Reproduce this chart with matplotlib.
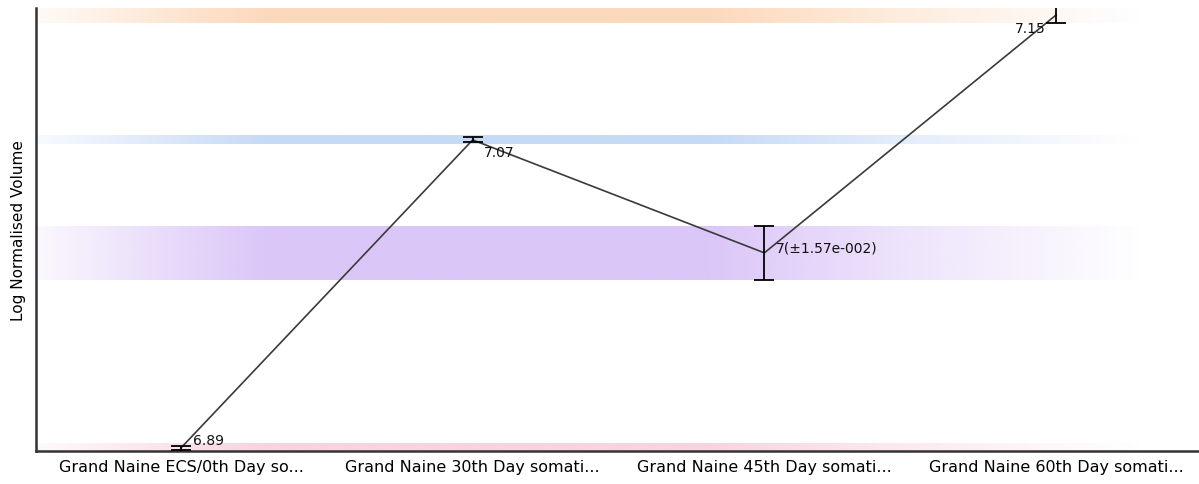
import numpy as np
import matplotlib
matplotlib.use("Agg")
import matplotlib.pyplot as plt
from matplotlib.colors import to_rgb

# ---- data ----
categories = ["Grand Naine ECS/0th Day so...", "Grand Naine 30th Day somati...",
              "Grand Naine 45th Day somati...", "Grand Naine 60th Day somati..."]
values = [6.889, 7.069, 7.003, 7.142]
errors = [0.0012, 0.0015, 0.0157, 0.0045]
point_labels = ["6.89", "7.07", "7(\u00b11.57e-002)", "7.15"]
band_colors = ["#f9d3de", "#c6daf6", "#dbc6f8", "#fdd9bb"]

plt.rcParams['font.family'] = ['DejaVu Sans']

fig = plt.figure(figsize=(11.99, 4.85), dpi=100)
ax = fig.add_axes([36/1199, 1-452/485, 1-36/1199, (452-9)/485])

x = np.arange(len(values))
ax.set_xlim(-0.497, 3.49)
ax.set_ylim(6.8872, 7.1461)

# gradient bands
xs_prof = [-0.5, -0.25, 0.1, 0.3, 1.8, 2.45, 3.3, 3.5]
al_prof = [0.12, 0.4, 0.8, 1.0, 1.0, 0.5, 0.0, 0.0]
N = 600
gx = np.linspace(-0.497, 3.49, N)
galpha = np.interp(gx, xs_prof, al_prof)
for v, e, c in zip(values, errors, band_colors):
    h = max(e, 0.0025)
    img = np.zeros((1, N, 4))
    img[0, :, :3] = to_rgb(c)
    img[0, :, 3] = galpha
    ax.imshow(img, extent=(-0.497, 3.49, v - h, v + h), aspect='auto',
              interpolation='bilinear', zorder=1)

ax.plot(x, values, color="#3a3a3a", lw=1.2, zorder=3)
ax.errorbar(x, values, yerr=errors, fmt='none', ecolor='black', elinewidth=1.3,
            capsize=7, capthick=1.3, zorder=4)

# value annotations
offsets = [(12, 8, 'left'), (11, -12, 'left'), (12, 5, 'left'), (-10, -13, 'right')]
for xi, v, lab, (dx, dy, ha) in zip(x, values, point_labels, offsets):
    ax.annotate(lab, (xi, v), xytext=(dx * 0.72, dy * 0.72), textcoords='offset points',
                ha=ha, va='center', fontsize=10, color='#111111', zorder=5)

ax.set_xticks(x)
ax.set_xticklabels(categories, fontsize=11.5)
ax.tick_params(axis='x', length=0, pad=6)
ax.set_yticks([])
ax.set_ylabel("Log Normalised Volume", fontsize=11, labelpad=7)

for s in ['top', 'right']:
    ax.spines[s].set_visible(False)
for s in ['left', 'bottom']:
    ax.spines[s].set_color('#333333')
    ax.spines[s].set_linewidth(1.8)

fig.savefig("out.png", dpi=100)
